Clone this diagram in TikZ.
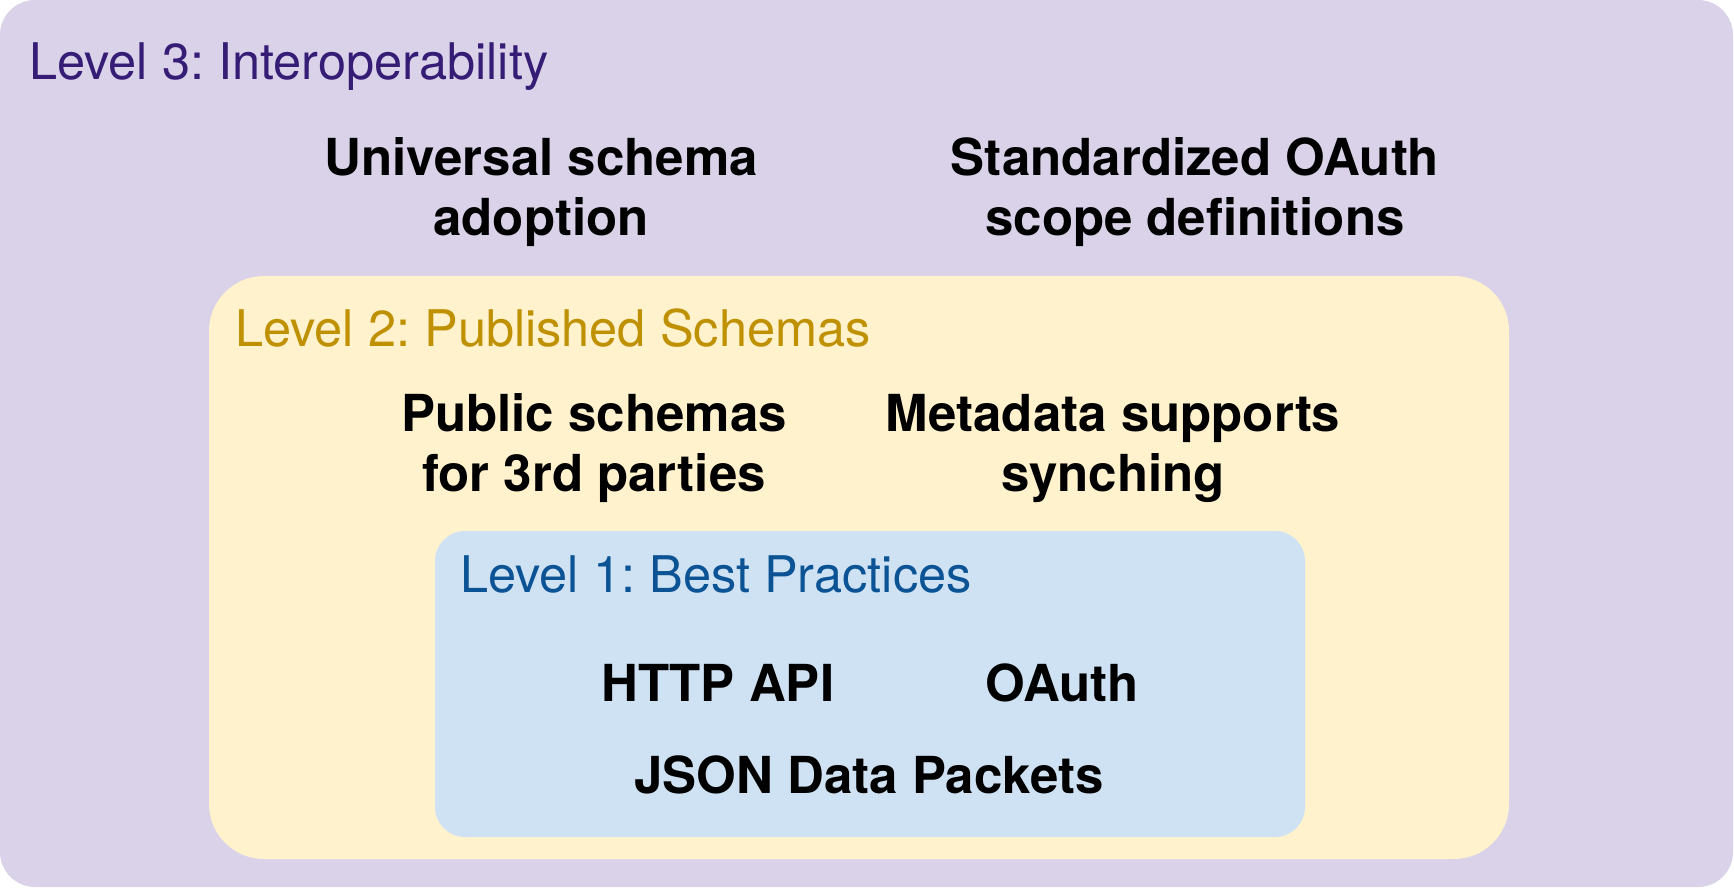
\documentclass[tikz,border=0pt]{standalone}
\usepackage{fontspec}
\setmainfont{TeX Gyre Heros}
\frenchspacing
\definecolor{lvthreebg}{HTML}{D9D2E9}
\definecolor{lvtwobg}{HTML}{FFF2CC}
\definecolor{lvonebg}{HTML}{CFE2F3}
\definecolor{lvthreefg}{HTML}{351C75}
\definecolor{lvtwofg}{HTML}{BF9000}
\definecolor{lvonefg}{HTML}{0B5394}
\tikzset{
  title/.style={anchor=base west, inner sep=0pt, font=\fontsize{50.5}{60}\selectfont},
  item/.style={anchor=base, inner sep=0pt, align=center, font=\fontsize{51}{60}\selectfont\bfseries},
}
\begin{document}
\begin{tikzpicture}[x=1pt,y=-1pt]
\useasboundingbox (0,0) rectangle (1734,890);
\fill[white] (0,0) rectangle (1734,890);
\fill[lvthreebg, rounded corners=35pt] (0,0) rectangle (1733,887);
\fill[lvtwobg, rounded corners=55pt] (209,276) rectangle (1509,859);
\fill[lvonebg, rounded corners=30pt] (435,531) rectangle (1305,837);

\node[title, text=lvthreefg] (t3) at (29,80) {Level 3: Interoperability};
\node[title, text=lvtwofg] (t2) at (235,347) {Level 2: Published Schemas};
\node[title, text=lvonefg] (t1) at (460,592) {Level 1: Best Practices};

% base anchor of a two-line node sits on its last line
\node[item] (usa) at (541,236) {Universal schema\\adoption};
\node[item] (sos) at (1195,236) {Standardized OAuth\\scope definitions};
\node[item] (ps) at (594,491) {Public schemas\\for 3rd parties};
\node[item] (mss) at (1113,491) {Metadata supports\\synching};
\node[item] (http) at (718,701) {HTTP API};
\node[item] (oauth) at (1062,701) {OAuth};
\node[item] (json) at (869,793) {JSON Data Packets};
\end{tikzpicture}
\end{document}
